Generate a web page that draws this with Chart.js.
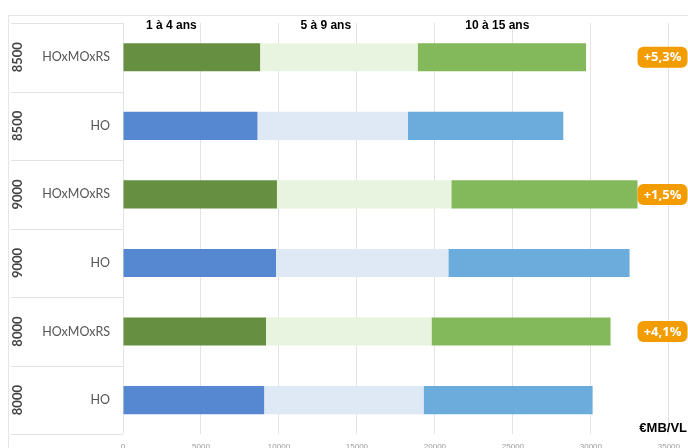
<!DOCTYPE html>
<html>
<head>
  <title>Coût par tranche d'âge</title>
  <script src="https://cdn.jsdelivr.net/npm/chart.js"></script>
  <style>
    body { margin: 0; overflow: hidden; background: #fff; }
    #wrap { position: relative; width: 688px; height: 460px; }
  </style>
</head>
<body>
  <div id="wrap"><canvas id="chart"></canvas></div>
  <script>
    // niveaux de salaire et formules, de haut en bas
    const niveaux = ['8500', '8500', '9000', '9000', '8000', '8000'];
    const formules = ['HOxMOxRS', 'HO', 'HOxMOxRS', 'HO', 'HOxMOxRS', 'HO'];
    const tranches = ['1 à 4 ans', '5 à 9 ans', '10 à 15 ans'];

    // montants par tranche (cumulés dans la barre)
    const ans1a4 = [8790, 8620, 9870, 9810, 9170, 9050];
    const ans5a9 = [10100, 9640, 11180, 11050, 10610, 10220];
    const ans10a15 = [10800, 9970, 11940, 11620, 11480, 10840];

    // écart HOxMOxRS / HO
    const ecarts = ['+5,3%', null, '+1,5%', null, '+4,1%', null];

    const xMax = 35000;
    const xStep = 5000;
    const unite = '€MB/VL';

    const vert = ['#678f42', '#e8f3e0', '#83b95a'];
    const bleu = ['#5588d0', '#dfe8f5', '#6cacdd'];
    const couleurs = k => formules.map(f => f === 'HO' ? bleu[k] : vert[k]);

    // où poser les titres de tranche sur l'axe des montants
    const titresX = [3100, 13000, 24000];

    function roundRect(ctx, x, y, w, h, r) {
      ctx.beginPath();
      ctx.moveTo(x + r, y);
      ctx.arcTo(x + w, y, x + w, y + h, r);
      ctx.arcTo(x + w, y + h, x, y + h, r);
      ctx.arcTo(x, y + h, x, y, r);
      ctx.arcTo(x, y, x + w, y, r);
      ctx.closePath();
    }

    const decor = {
      id: 'decor',
      beforeDraw(chart) {
        const ctx = chart.ctx;
        const y = chart.scales.y;
        const area = chart.chartArea;
        const band = (y.bottom - y.top) / formules.length;
        ctx.save();
        ctx.strokeStyle = '#e6e6e6';
        ctx.lineWidth = 1;
        // cadre extérieur
        ctx.beginPath();
        ctx.moveTo(8.5, 460);
        ctx.lineTo(8.5, 15.5);
        ctx.lineTo(688, 15.5);
        ctx.stroke();
        // lignes du tableau des libellés
        ctx.strokeStyle = '#e2e2e2';
        ctx.beginPath();
        for (let i = 0; i <= formules.length; i++) {
          const py = Math.round(y.top + band * i) + 0.5;
          ctx.moveTo(11, py);
          ctx.lineTo(area.left, py);
        }
        ctx.stroke();
        ctx.restore();
      },
      afterDraw(chart) {
        const ctx = chart.ctx;
        const x = chart.scales.x;
        const y = chart.scales.y;
        const area = chart.chartArea;
        ctx.save();

        // niveaux, écrits verticalement
        ctx.fillStyle = '#444';
        ctx.font = 'bold 13px Lato';
        ctx.textAlign = 'center';
        ctx.textBaseline = 'middle';
        niveaux.forEach((n, i) => {
          ctx.save();
          ctx.translate(18, y.getPixelForValue(i));
          ctx.rotate(-Math.PI / 2);
          ctx.fillText(n, 0, 0);
          ctx.restore();
        });

        // titres des tranches
        ctx.fillStyle = '#000';
        ctx.font = 'bold 12px "Liberation Sans"';
        tranches.forEach((t, k) => {
          ctx.fillText(t, x.getPixelForValue(titresX[k]), area.top + 3);
        });

        // pastilles d'écart
        ctx.font = 'bold 13px "Open Sans"';
        ecarts.forEach((e, i) => {
          if (!e) return;
          const cy = y.getPixelForValue(i);
          roundRect(ctx, 637.5, cy - 10.5, 50, 21, 6);
          ctx.fillStyle = '#f39c00';
          ctx.fill();
          ctx.fillStyle = '#fff';
          ctx.fillText(e, 662.5, cy + 0.5);
        });

        // unité
        ctx.fillStyle = '#000';
        ctx.font = 'bold 13px "Liberation Sans"';
        ctx.textAlign = 'right';
        ctx.fillText(unite, 687, 428);
        ctx.restore();
      }
    };

    new Chart(document.getElementById('chart'), {
      type: 'bar',
      data: {
        labels: formules,
        datasets: [
          { label: tranches[0], data: ans1a4, backgroundColor: couleurs(0) },
          { label: tranches[1], data: ans5a9, backgroundColor: couleurs(1) },
          { label: tranches[2], data: ans10a15, backgroundColor: couleurs(2) }
        ]
      },
      options: {
        indexAxis: 'y',
        responsive: true,
        maintainAspectRatio: false,
        animation: false,
        layout: { padding: { top: 23, right: 14, left: 0, bottom: 0 } },
        datasets: { bar: { barPercentage: 0.41, categoryPercentage: 1 } },
        plugins: { legend: { display: false }, tooltip: { enabled: false } },
        scales: {
          x: {
            stacked: true,
            min: 0,
            max: xMax,
            ticks: {
              stepSize: xStep, color: '#9a9a9a', font: { size: 8 }, padding: 8, maxRotation: 0,
              callback: v => String(v)
            },
            grid: { color: '#e4e4e4', drawTicks: false },
            border: { display: false }
          },
          y: {
            stacked: true,
            afterFit: s => { s.width = 123; },
            ticks: { color: '#555', font: { family: 'Lato', size: 12.5 }, padding: 13 },
            grid: { display: false, drawTicks: false },
            border: { display: false }
          }
        }
      },
      plugins: [decor]
    });
  </script>
</body>
</html>
